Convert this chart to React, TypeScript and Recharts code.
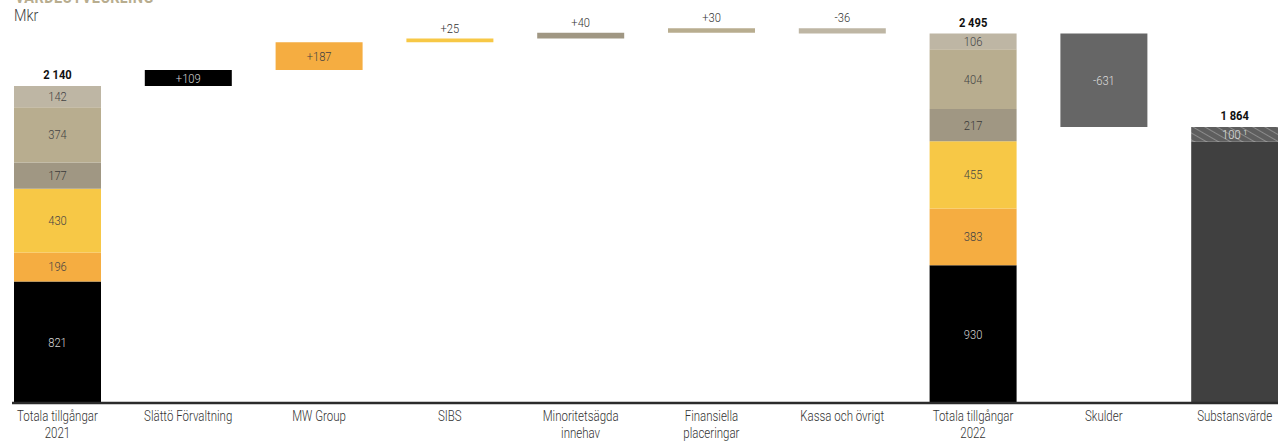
import React from 'react';
import { BarChart, Bar, XAxis, YAxis, LabelList } from 'recharts';

const categories = [
  'Totala tillgångar\n2021',
  'Slättö Förvaltning',
  'MW Group',
  'SIBS',
  'Minoritetsägda\ninnehav',
  'Finansiella\nplaceringar',
  'Kassa och övrigt',
  'Totala tillgångar\n2022',
  'Skulder',
  'Substansvärde',
];

// segments bottom -> top: Slättö, MW Group, SIBS, Minoritet, Finansiella, Kassa
const assets2021 = [821, 196, 430, 177, 374, 142];
const changes = [109, 187, 25, 40, 30, -36];
const assets2022 = [930, 383, 455, 217, 404, 106];
const liabilities = -631;
const hatchedPart = 100;

const segKeys = ['s0', 's1', 's2', 's3', 's4', 's5'];
const segColors = ['#000000', '#F5AD41', '#F7C846', '#A09783', '#B8AD8F', '#BEB6A4'];
const segText = ['#d4d4d4', '#444444', '#444444', '#3a3a3a', '#444444', '#444444'];

const fmt = (v: number) => String(v).replace(/\B(?=(\d{3})+(?!\d))/g, ' ');
const sign = (v: number) => (v > 0 ? `+${v}` : `${v}`);

type Row = { [k: string]: any };

const emptyRow = (name: string): Row => {
  const r: Row = { name, pad: 0, liab: 0, nav: 0, hatch: 0 };
  segKeys.forEach((k) => (r[k] = 0));
  return r;
};

const rows: Row[] = [];
{
  const r0 = emptyRow(categories[0]);
  assets2021.forEach((v, i) => {
    r0[segKeys[i]] = v;
    r0[`${segKeys[i]}_in`] = String(v);
  });
  const t0 = assets2021.reduce((a, b) => a + b, 0);
  r0.s5_total = fmt(t0);
  rows.push(r0);

  let running = t0;
  changes.forEach((v, i) => {
    const r = emptyRow(categories[i + 1]);
    const k = segKeys[i];
    r.pad = v > 0 ? running : running + v;
    r[k] = Math.abs(v);
    if (Math.abs(v) >= 80) r[`${k}_in`] = sign(v);
    else r[`${k}_up`] = sign(v);
    running += v;
    rows.push(r);
  });

  const r7 = emptyRow(categories[7]);
  assets2022.forEach((v, i) => {
    r7[segKeys[i]] = v;
    r7[`${segKeys[i]}_in`] = String(v);
  });
  const t1 = assets2022.reduce((a, b) => a + b, 0);
  r7.s5_total = fmt(t1);
  rows.push(r7);

  const nav = t1 + liabilities;
  const r8 = emptyRow(categories[8]);
  r8.pad = nav;
  r8.liab = -liabilities;
  r8.liab_in = sign(liabilities);
  rows.push(r8);

  const r9 = emptyRow(categories[9]);
  r9.nav = nav - hatchedPart;
  r9.hatch = hatchedPart;
  r9.hatch_in = `${hatchedPart} ¹`;
  r9.hatch_total = fmt(nav);
  rows.push(r9);
}

const textColor: { [k: string]: string } = { liab: '#dcdcdc', hatch: '#e0e0e0' };
segKeys.forEach((k, i) => (textColor[k] = segText[i]));

const insideLabel = (key: string) => (props: any) => {
  const { x, y, width, height, value, index } = props;
  if (!value) return null;
  return (
    <text
      key={`in-${key}-${index}`}
      x={0}
      y={0}
      transform={`translate(${x + width / 2},${y + height / 2 + 4.5}) scale(0.86,1)`}
      textAnchor="middle"
      fontSize={13}
      fontWeight={300}
      fill={textColor[key]}
      fontFamily="Roboto"
    >
      {value}
    </text>
  );
};

const aboveLabel = (key: string, bold: boolean) => (props: any) => {
  const { x, y, width, value, index } = props;
  if (!value) return null;
  return (
    <text
      key={`up-${key}-${index}-${bold}`}
      x={0}
      y={0}
      transform={`translate(${x + width / 2},${y - (bold ? 7 : 6)}) scale(0.86,1)`}
      textAnchor="middle"
      fontSize={13}
      fontWeight={bold ? 700 : 300}
      fill={bold ? '#111' : '#333'}
      fontFamily="Roboto"
    >
      {value}
    </text>
  );
};

const CategoryTick = (props: any) => {
  const { x, y, payload } = props;
  const lines = String(payload.value).split('\n');
  return (
    <g transform={`translate(${x},${y})`}>
      {lines.map((l, i) => (
        <text
          key={i}
          x={0}
          y={0}
          transform={`translate(0,${10 + i * 17}) scale(0.82,1)`}
          textAnchor="middle"
          fontSize={14}
          fontWeight={300}
          fill="#333"
          fontFamily="Roboto"
        >
          {l}
        </text>
      ))}
    </g>
  );
};

const labelsFor = (key: string) => [
  <LabelList key="in" dataKey={`${key}_in`} content={insideLabel(key)} />,
  <LabelList key="up" dataKey={`${key}_up`} content={aboveLabel(key, false)} />,
  <LabelList key="tot" dataKey={`${key}_total`} content={aboveLabel(key, true)} />,
];

export default function App() {
  return (
    <div
      style={{
        position: 'absolute',
        left: 0,
        top: 0,
        width: 1278,
        height: 441,
        overflow: 'hidden',
        background: '#fff',
        fontFamily: 'Roboto',
      }}
    >
      <svg width={0} height={0} style={{ position: 'absolute' }}>
        <defs>
          <pattern id="hatch" width="6" height="6" patternUnits="userSpaceOnUse" patternTransform="rotate(-60)">
            <rect width="6" height="6" fill="#5e5e5e" />
            <line x1="0" y1="0" x2="0" y2="6" stroke="#9a9a9a" strokeWidth="1.5" />
          </pattern>
        </defs>
      </svg>
      <div
        style={{
          position: 'absolute',
          left: 15,
          top: -13,
          fontSize: 17,
          fontWeight: 700,
          color: '#B8AD8F',
          transform: 'scaleX(0.85)',
          transformOrigin: 'left',
          letterSpacing: 0.5,
        }}
      >
        VÄRDEUTVECKLING
      </div>
      <div
        style={{
          position: 'absolute',
          left: 14,
          top: 6,
          fontSize: 16,
          fontWeight: 300,
          color: '#444',
          transform: 'scaleX(0.9)',
          transformOrigin: 'left',
        }}
      >
        Mkr
      </div>
      <BarChart
        width={1278}
        height={441}
        data={rows}
        margin={{ top: 18, right: 0, left: 12, bottom: 0 }}
        barCategoryGap={22}
      >
        <XAxis
          dataKey="name"
          height={38}
          padding={{ left: -20, right: -22 }}
          tickLine={false}
          axisLine={{ stroke: '#2b2b2b', strokeWidth: 2.5 }}
          interval={0}
          tick={<CategoryTick />}
        />
        <YAxis hide domain={[0, 2600]} />
        <Bar dataKey="pad" stackId="a" fill="transparent" isAnimationActive={false} />
        {segKeys.map((k, i) => (
          <Bar key={k} dataKey={k} stackId="a" fill={segColors[i]} isAnimationActive={false}>
            {labelsFor(k)}
          </Bar>
        ))}
        <Bar dataKey="liab" stackId="a" fill="#666666" isAnimationActive={false}>
          {labelsFor('liab')}
        </Bar>
        <Bar dataKey="nav" stackId="a" fill="#404040" isAnimationActive={false} />
        <Bar dataKey="hatch" stackId="a" fill="url(#hatch)" isAnimationActive={false}>
          {labelsFor('hatch')}
        </Bar>
      </BarChart>
    </div>
  );
}
